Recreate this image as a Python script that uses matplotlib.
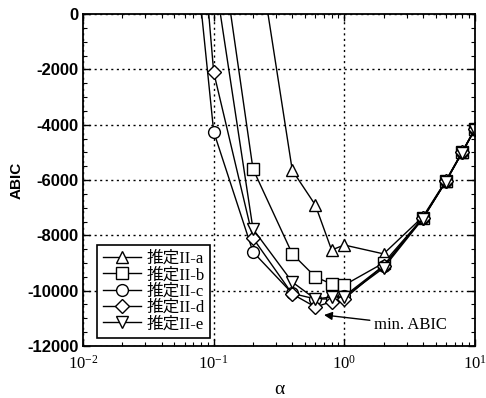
import numpy as np
import matplotlib.pyplot as plt
from matplotlib.ticker import MultipleLocator, LogLocator, NullFormatter

plt.rcParams['axes.unicode_minus'] = False

# regularisation parameter values and ABIC for each estimation case
alpha_a = [0.2, 0.4, 0.6, 0.8, 1.0, 2.0, 4.0, 6.0, 8.0, 10.0]
abic_a = [3500, -5650, -6900, -8530, -8350, -8670, -7330, -6020, -4980, -4150]

alpha_b = [0.1, 0.2, 0.4, 0.6, 0.8, 1.0, 2.0, 4.0, 6.0, 8.0, 10.0]
abic_b = [4300, -5600, -8670, -9500, -9760, -9800, -9000, -7370, -6040, -4990, -4160]

alpha_c = [0.05, 0.1, 0.2, 0.4, 0.6, 0.8, 1.0, 2.0, 4.0, 6.0, 8.0, 10.0]
abic_c = [9700, -4250, -8600, -10100, -10300, -10300, -10200, -9100, -7380, -6050, -5000, -4170]

alpha_d = [0.05, 0.1, 0.2, 0.4, 0.6, 0.8, 1.0, 2.0, 4.0, 6.0, 8.0, 10.0]
abic_d = [14700, -2100, -8100, -10120, -10590, -10400, -10300, -9100, -7380, -6050, -5000, -4170]

alpha_e = [0.1, 0.2, 0.4, 0.6, 0.8, 1.0, 2.0, 4.0, 6.0, 8.0, 10.0]
abic_e = [1600, -7770, -9690, -10300, -10230, -10230, -9180, -7400, -6060, -5010, -4180]

labels = ['推定II-a', '推定II-b', '推定II-c', '推定II-d', '推定II-e']
markers = ['^', 's', 'o', 'D', 'v']

serif = ['Liberation Serif', 'Noto Sans CJK JP']

fig = plt.figure(figsize=(4.86, 3.98), dpi=100)
ax = fig.add_axes([0.171, 0.1307, 0.806, 0.834])

series = [(alpha_a, abic_a), (alpha_b, abic_b), (alpha_c, abic_c),
          (alpha_d, abic_d), (alpha_e, abic_e)]
for (x, y), lab, m in zip(series, labels, markers):
    ms = 7 if m == 'D' else 8.5
    ax.plot(x, y, color='black', lw=1.0, marker=m, ms=ms, mfc='white',
            mec='black', mew=1.0, label=lab)

ax.set_xscale('log')
ax.set_xlim(0.01, 10)
ax.set_ylim(-12000, 0)
ax.yaxis.set_major_locator(MultipleLocator(2000))
ax.yaxis.set_minor_locator(MultipleLocator(500))
ax.xaxis.set_minor_locator(LogLocator(base=10, subs=np.arange(2, 10)))
ax.xaxis.set_minor_formatter(NullFormatter())

ax.tick_params(which='both', direction='in', top=True, right=True)
ax.tick_params(which='major', length=5, width=1)
ax.tick_params(which='minor', length=3, width=0.8)
ax.tick_params(axis='x', pad=6)
ax.tick_params(axis='y', pad=3)
ax.grid(True, which='major', linestyle=(0, (1.5, 2.5)), color='black', lw=1.0)

for sp in ax.spines.values():
    sp.set_linewidth(1.3)

for t in ax.get_xticklabels():
    t.set_fontfamily(serif)
    t.set_fontsize(12)
for t in ax.get_yticklabels():
    t.set_fontfamily('Liberation Sans')
    t.set_fontweight('bold')
    t.set_fontsize(12)

ax.set_xlabel('α', family=serif, fontsize=14, labelpad=6)
ax.set_ylabel('ABIC', family='Liberation Sans', fontweight='bold', fontsize=11, labelpad=3)

ax.annotate('min. ABIC', xy=(0.70, -10880), xytext=(1.69, -11240),
            family=serif, fontsize=12, va='center', ha='left',
            arrowprops=dict(arrowstyle='-|>', color='black', lw=1.0,
                            mutation_scale=12, shrinkA=1, shrinkB=0))

leg = ax.legend(loc='lower left', bbox_to_anchor=(0.036, 0.024),
                borderaxespad=0,
                prop={'family': serif, 'size': 12}, handlelength=2.3,
                handletextpad=0.3, labelspacing=0.02, borderpad=0.35,
                fancybox=False, framealpha=1, edgecolor='black')
leg.get_frame().set_linewidth(1.2)

fig.savefig('out.png', dpi=100)
